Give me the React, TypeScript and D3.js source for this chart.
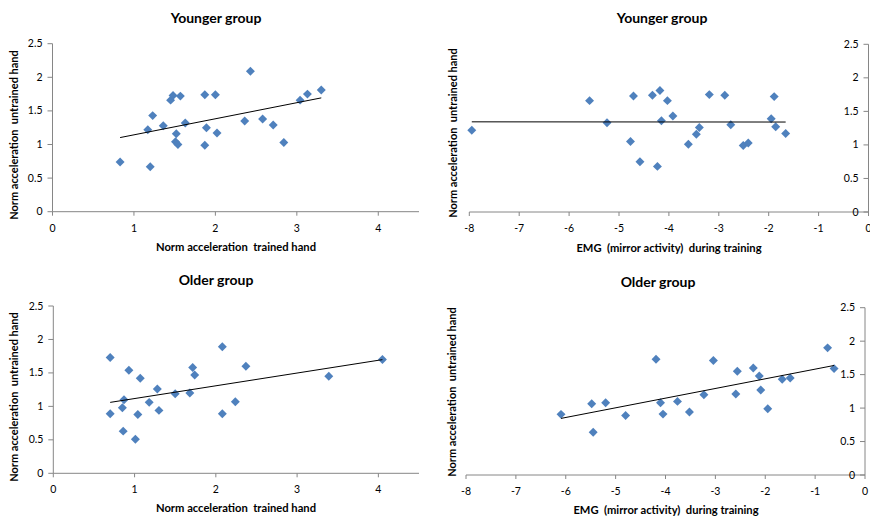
import React from 'react';
import * as d3 from 'd3';

// ---- Data ----
const youngAccX = [0.83, 1.20, 1.17, 1.23, 1.36, 1.45, 1.48, 1.57, 1.52, 1.51, 1.54, 1.63, 1.87, 1.89, 1.87, 2.00, 2.02, 2.43, 2.36, 2.58, 2.71, 2.84, 3.04, 3.13, 3.30];
const youngAccY = [0.74, 0.67, 1.22, 1.43, 1.28, 1.66, 1.73, 1.72, 1.16, 1.04, 1.00, 1.32, 1.74, 1.25, 0.99, 1.74, 1.17, 2.09, 1.35, 1.38, 1.29, 1.03, 1.66, 1.75, 1.81];

const youngEmgX = [-7.95, -5.59, -5.24, -4.71, -4.77, -4.58, -4.33, -4.18, -4.03, -4.15, -3.92, -4.23, -3.61, -3.45, -3.39, -3.19, -2.88, -2.76, -2.51, -2.41, -1.95, -1.89, -1.86, -1.66];
const youngEmgY = [1.22, 1.66, 1.33, 1.73, 1.05, 0.75, 1.74, 1.81, 1.66, 1.36, 1.43, 0.68, 1.01, 1.16, 1.26, 1.75, 1.74, 1.30, 0.99, 1.03, 1.39, 1.72, 1.27, 1.17];

const oldAccX = [0.70, 0.70, 0.85, 0.87, 0.86, 0.93, 1.01, 1.04, 1.07, 1.18, 1.28, 1.30, 1.50, 1.68, 1.715, 1.74, 2.08, 2.08, 2.24, 2.37, 3.39, 4.05];
const oldAccY = [1.73, 0.89, 0.98, 1.10, 0.63, 1.54, 0.51, 0.88, 1.42, 1.06, 1.26, 0.94, 1.19, 1.20, 1.58, 1.47, 1.89, 0.89, 1.07, 1.60, 1.45, 1.70];

const oldEmgX = [-6.095, -5.48, -5.45, -5.20, -4.80, -4.19, -4.10, -4.05, -3.76, -3.52, -3.23, -3.04, -2.59, -2.56, -2.24, -2.12, -2.09, -1.95, -1.66, -1.50, -0.75, -0.62];
const oldEmgY = [0.906, 1.066, 0.64, 1.08, 0.89, 1.73, 1.08, 0.91, 1.10, 0.94, 1.20, 1.71, 1.21, 1.55, 1.60, 1.48, 1.27, 0.99, 1.43, 1.45, 1.90, 1.59];

const accTicks = [0, 1, 2, 3, 4];
const emgTicks = [-8, -7, -6, -5, -4, -3, -2, -1, 0];
const yTicks = [0, 0.5, 1, 1.5, 2, 2.5];

const titles = ['Younger group', 'Younger group', 'Older group', 'Older group'];
const xTitles = ['Norm acceleration  trained hand', 'EMG  (mirror activity)  during training', 'Norm acceleration  trained hand', 'EMG  (mirror activity)  during training'];
const yTitle = 'Norm acceleration  untrained hand';

const FONT = 'Lato, Carlito, Calibri, "Liberation Sans", sans-serif';
const AXIS = '#868686';
const MARK = '#4F81BD';

type PanelProps = {
  xs: number[]; ys: number[];
  xDomain: [number, number]; xRange: [number, number];
  yRange: [number, number];
  xTicks: number[];
  title: string; titleX: number; titleY: number;
  xTitle: string; xTitleX: number; xTitleY: number;
  yTitleX: number; yTitleY: number;
};

function regression(xs: number[], ys: number[]) {
  const mx = d3.mean(xs) as number;
  const my = d3.mean(ys) as number;
  let sxy = 0, sxx = 0;
  xs.forEach((x, i) => { sxy += (x - mx) * (ys[i] - my); sxx += (x - mx) * (x - mx); });
  const slope = sxy / sxx;
  return { slope, intercept: my - slope * mx };
}

function Panel(p: PanelProps) {
  const x = d3.scaleLinear().domain(p.xDomain).range(p.xRange);
  const y = d3.scaleLinear().domain([0, 2.5]).range(p.yRange);
  const axisX = x(0);
  const y0 = y(0);
  const { slope, intercept } = regression(p.xs, p.ys);
  const [minX, maxX] = d3.extent(p.xs) as [number, number];
  const line = d3.line<number>().x((d) => x(d)).y((d) => y(intercept + slope * d));
  const sym = d3.symbol(d3.symbolSquare, 40)();
  return (
    <g>
      <text x={p.titleX} y={p.titleY} textAnchor="middle" fontFamily={FONT} fontWeight="bold" fontSize={14} fill="#000">{p.title}</text>
      {/* x axis */}
      <line x1={p.xRange[0]} x2={p.xRange[1]} y1={y0} y2={y0} stroke={AXIS} strokeWidth={1} />
      {p.xTicks.map((t) => (
        <g key={'xt' + t}>
          <line x1={x(t)} x2={x(t)} y1={y0} y2={y0 + 4} stroke={AXIS} />
          <text x={x(t)} y={y0 + 20} textAnchor="middle" fontFamily={FONT} fontSize={10.5} fill="#000">{String(t)}</text>
        </g>
      ))}
      {/* y axis */}
      <line x1={axisX} x2={axisX} y1={y0} y2={y(2.5)} stroke={AXIS} strokeWidth={1} />
      {yTicks.map((t) => (
        <g key={'yt' + t}>
          <line x1={axisX - 5} x2={axisX} y1={y(t)} y2={y(t)} stroke={AXIS} />
          <text x={axisX - 10} y={y(t) + 3.5} textAnchor="end" fontFamily={FONT} fontSize={10.5} fill="#000">{String(t)}</text>
        </g>
      ))}
      <text x={p.xTitleX} y={p.xTitleY} textAnchor="middle" fontFamily={FONT} fontWeight="bold" fontSize={11.2} fill="#000" style={{ whiteSpace: 'pre' }}>{p.xTitle}</text>
      <text transform={`translate(${p.yTitleX},${p.yTitleY}) rotate(-90)`} textAnchor="middle" fontFamily={FONT} fontWeight="bold" fontSize={11} fill="#000" style={{ whiteSpace: 'pre' }}>{yTitle}</text>
      {/* points */}
      {p.xs.map((v, i) => (
        <path key={'p' + i} d={sym as string} transform={`translate(${x(v)},${y(p.ys[i])}) rotate(45)`} fill={MARK} />
      ))}
      {/* trend line */}
      <path d={line([minX, maxX]) as string} fill="none" stroke="#000" strokeWidth={1} />
    </g>
  );
}

export default function App() {
  return (
    <div style={{ position: 'absolute', left: 0, top: 0 }}>
      <svg width={870} height={517} style={{ display: 'block', background: '#fff' }}>
        <Panel xs={youngAccX} ys={youngAccY} xDomain={[0, 4.5]} xRange={[52.5, 419]} yRange={[211.7, 43.7]} xTicks={accTicks}
          title={titles[0]} titleX={216} titleY={23} xTitle={xTitles[0]} xTitleX={236} xTitleY={250.5} yTitleX={18} yTitleY={135} />
        <Panel xs={youngEmgX} ys={youngEmgY} xDomain={[-8, 0]} xRange={[469.3, 868.5]} yRange={[212, 44.3]} xTicks={emgTicks}
          title={titles[1]} titleX={662} titleY={23} xTitle={xTitles[1]} xTitleX={669} xTitleY={252} yTitleX={457} yTitleY={133} />
        <Panel xs={oldAccX} ys={oldAccY} xDomain={[0, 4.5]} xRange={[53.3, 419]} yRange={[473.3, 306]} xTicks={accTicks}
          title={titles[2]} titleX={216} titleY={285} xTitle={xTitles[2]} xTitleX={236} xTitleY={512} yTitleX={18} yTitleY={397} />
        <Panel xs={oldEmgX} ys={oldEmgY} xDomain={[-8, 0]} xRange={[466, 865]} yRange={[475, 307.7]} xTicks={emgTicks}
          title={titles[3]} titleX={658} titleY={287} xTitle={xTitles[3]} xTitleX={666} xTitleY={514} yTitleX={456} yTitleY={392} />
      </svg>
    </div>
  );
}
